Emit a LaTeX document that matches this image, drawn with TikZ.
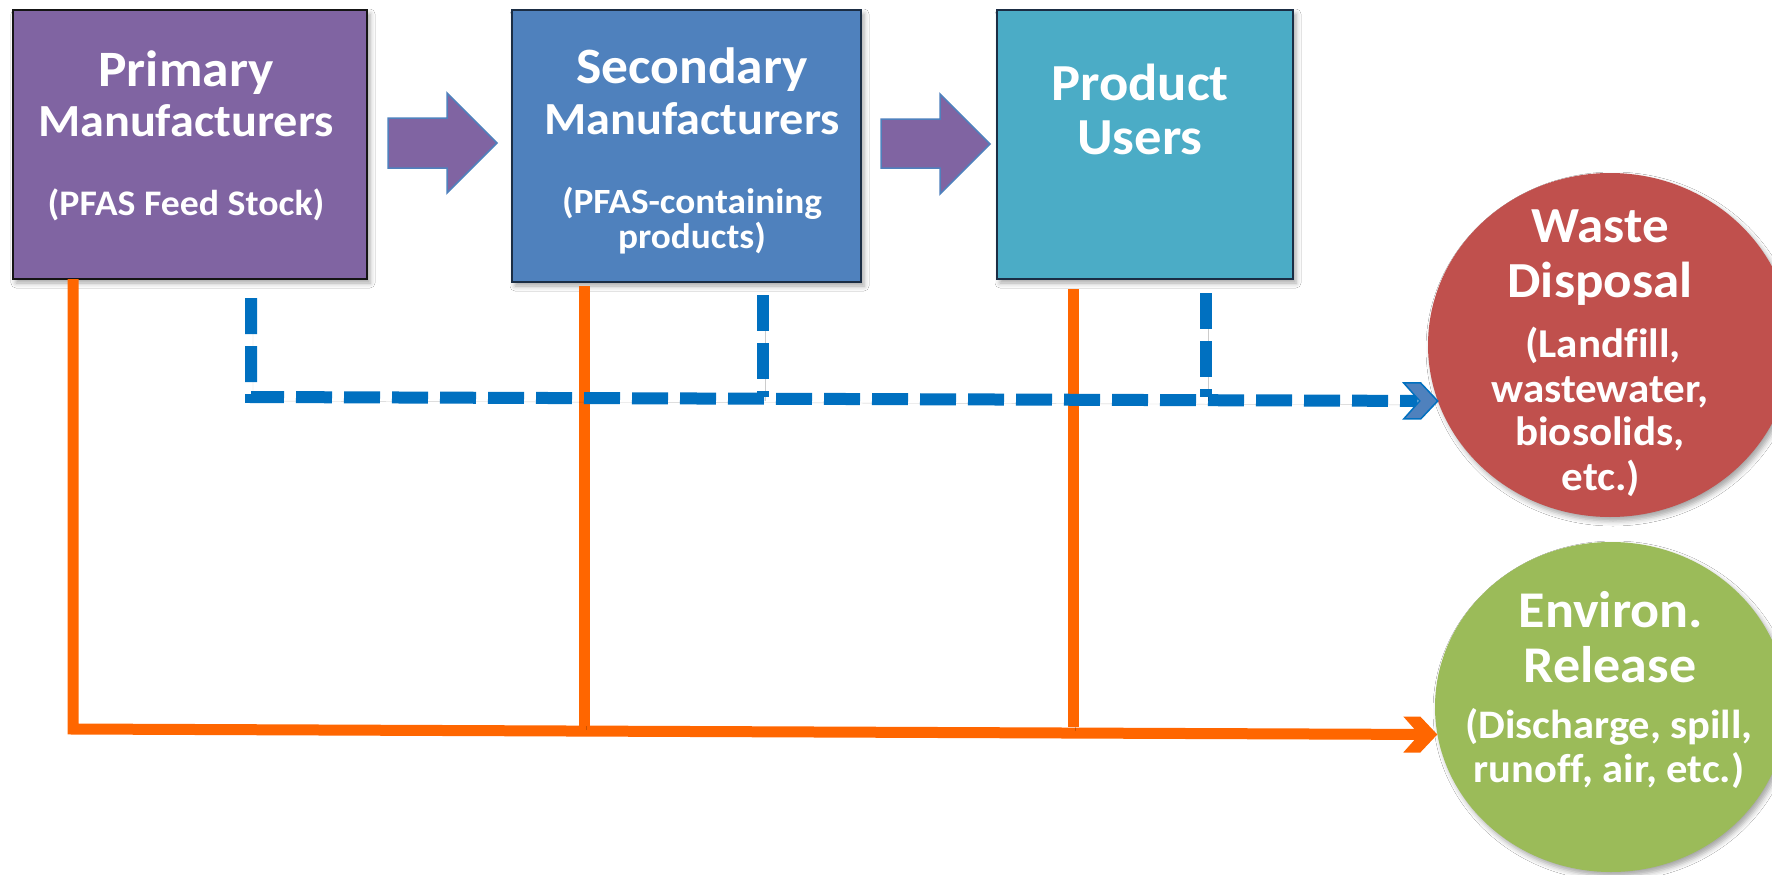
\documentclass[tikz,border=0pt]{standalone}
\usepackage{fontspec}
\setmainfont{Carlito}[FakeStretch=1.05, Ligatures=NoCommon]
\usetikzlibrary{shapes.geometric,shadows.blur}

\definecolor{primpurple}{HTML}{8064A2}
\definecolor{secblue}{HTML}{4F81BD}
\definecolor{userteal}{HTML}{4BACC6}
\definecolor{wastered}{HTML}{C0504D}
\definecolor{envgreen}{HTML}{9BBB59}
\definecolor{relorange}{HTML}{FF6600}
\definecolor{dispblue}{HTML}{0070C0}
\definecolor{darkedge}{HTML}{151515}
\definecolor{navyedge}{HTML}{1B2D44}

\tikzset{
  softshadow/.style={blur shadow={shadow xshift=3pt, shadow yshift=-4pt,
      shadow blur radius=5pt, shadow opacity=35}},
  stagebox/.style={rectangle, line width=2.5pt, inner sep=0pt, softshadow},
  sinkblob/.style={ellipse, draw=none, inner sep=0pt, softshadow},
  lbl/.style={text=white, font=\bfseries\fontsize{#1}{#1}\selectfont,
      anchor=base, inner sep=0pt},
  flowarrow/.style={fill=primpurple, draw=secblue, line width=1.5pt, line join=miter},
  lineshade/.style={preaction={draw=black, opacity=0.2,
      transform canvas={shift={(2pt,-4pt)}}}},
  release/.style={draw=relorange, line width=11pt, line join=miter},
  disposal/.style={draw=dispblue, line width=12pt, dash pattern=on 36pt off 12pt},
  chevron/.pic={\path[pic actions] (-34,-18) -- (-17,-18) -- (0,0) -- (-17,18)
      -- (-34,18) -- (-18,0) -- cycle;}
}

\begin{document}
\begin{tikzpicture}[x=1pt, y=-1pt]
  \fill[white] (0,0) rectangle (1772,875);
  \useasboundingbox (0,0) rectangle (1772,875);

  % stages of the product chain
  \node[stagebox, fill=primpurple, draw=darkedge, minimum width=354pt, minimum height=269pt] (prim) at (190,144.5) {};
  \node[stagebox, fill=secblue, draw=navyedge, minimum width=349pt, minimum height=272pt] (sec) at (686.5,146) {};
  \node[stagebox, fill=userteal, draw=navyedge, minimum width=296pt, minimum height=269pt] (user) at (1145,144.5) {};

  % end points of PFAS
  \node[sinkblob, fill=wastered, minimum width=364pt, minimum height=344pt] (waste) at (1610,345) {};
  \node[sinkblob, fill=envgreen, minimum width=352pt, minimum height=330pt] (env) at (1611,707) {};

  % block arrows between the stages
  \draw[flowarrow] (388,118) -- (447,118) -- (447,93) -- (497,143) -- (447,193) -- (447,168) -- (388,168) -- cycle;
  \draw[flowarrow] (881,119) -- (940,119) -- (940,94) -- (990,144) -- (940,194) -- (940,168) -- (881,168) -- cycle;

  % texts
  \node[lbl=51] (primA) at (186,86) {Primary};
  \node[lbl=46] (primB) at (186,136) {Manufacturers};
  \node[lbl=36] (primC) at (186,215) {(PFAS Feed Stock)};

  \node[lbl=51] (secA) at (692,83) {Secondary};
  \node[lbl=46] (secB) at (692,134) {Manufacturers};
  \node[lbl=35.5] (secC) at (692,213) {(PFAS-containing};
  \node[lbl=35.5] (secD) at (692,248) {products)};

  \node[lbl=52] (userA) at (1140,100) {Product};
  \node[lbl=52] (userB) at (1140,154) {Users};

  \node[lbl=50.5] (wasteA) at (1600,242) {Waste};
  \node[lbl=50.5] (wasteB) at (1600,297) {Disposal};
  \node[lbl=41] (wasteC) at (1603,357) {(Landfill,};
  \node[lbl=41] (wasteD) at (1600,402) {wastewater,};
  \node[lbl=41] (wasteE) at (1600,445) {biosolids,};
  \node[lbl=41] (wasteF) at (1601,490) {etc.)};

  \node[lbl=51.5] (envA) at (1611,627) {Environ.};
  \node[lbl=51.5] (envB) at (1610,682) {Release};
  \node[lbl=40.5] (envC) at (1609,738) {(Discharge, spill,};
  \node[lbl=40.5] (envD) at (1609,782) {runoff, air, etc.)};

  % tap points below the stages
  \coordinate (primdrop) at (73,279);
  \coordinate (primcorner) at (73,729);
  \coordinate (secdrop) at (584,286);
  \coordinate (secjoin) at (584,726);
  \coordinate (userdrop) at (1073,289);
  \coordinate (userjoin) at (1073,727);

  \coordinate (primtap) at (251,298);
  \coordinate (primbend) at (251,397);
  \coordinate (sectap) at (763,295);
  \coordinate (secmeet) at (763,397);
  \coordinate (usertap) at (1206,293);
  \coordinate (usermeet) at (1206,397);

  % environmental releases
  \draw[release, lineshade, shorten >=16pt] (primdrop) -- (primcorner) -- (env.189);
  \draw[release, lineshade] (secdrop) -- (secjoin);
  \draw[release, lineshade] (userdrop) -- (userjoin);
  \pic[fill=relorange] at (env.189) {chevron};

  % waste disposal
  \draw[disposal, lineshade, shorten >=20pt] (primtap) -- (primbend) -- (waste.198);
  \draw[disposal, lineshade] (sectap) -- (secmeet);
  \draw[disposal, lineshade] (usertap) -- (usermeet);
  \pic[fill=secblue, draw=dispblue, line width=1.5pt] at (waste.198) {chevron};
\end{tikzpicture}
\end{document}
